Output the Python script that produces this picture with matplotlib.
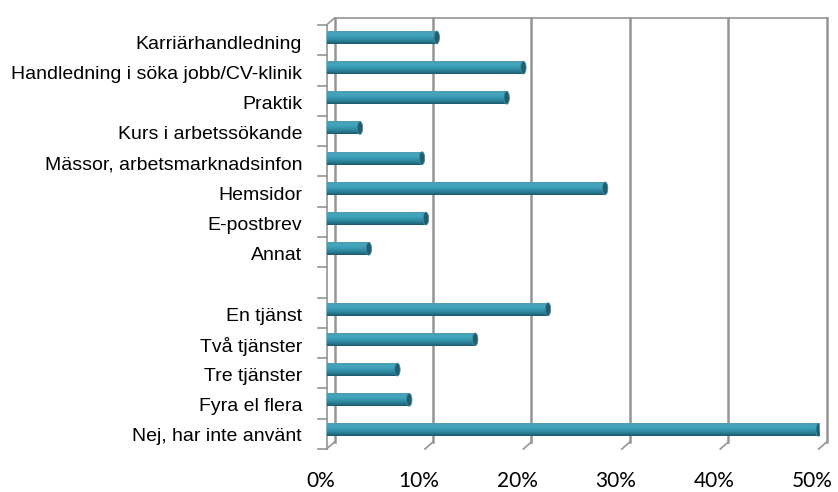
import matplotlib
matplotlib.use("Agg")
import matplotlib.pyplot as plt
import matplotlib.transforms as mtransforms
from matplotlib.colors import LinearSegmentedColormap
from matplotlib.patches import Ellipse
import numpy as np

# Svarskategorier, uppifrån och ned (tom rad mellan de två grupperna)
categories = [
    "Karriärhandledning",
    "Handledning i söka jobb/CV-klinik",
    "Praktik",
    "Kurs i arbetssökande",
    "Mässor, arbetsmarknadsinfon",
    "Hemsidor",
    "E-postbrev",
    "Annat",
    "",
    "En tjänst",
    "Två tjänster",
    "Tre tjänster",
    "Fyra el flera",
    "Nej, har inte använt",
]
# Andel svarande i procent (None = tom rad)
shares = [11.2, 20.0, 18.3, 3.4, 9.7, 28.3, 10.1, 4.3, None,
          22.5, 15.1, 7.2, 8.4, 50.0]
x_ticks = [0, 10, 20, 30, 40, 50]
x_tick_labels = ["0%", "10%", "20%", "30%", "40%", "50%"]

W, H, DPI = 838, 492, 100
fig = plt.figure(figsize=(W / DPI, H / DPI), dpi=DPI)
ax = fig.add_axes([326.5 / W, (H - 449) / H, 492.2 / W, 424 / H])

n = len(categories)
for s in ax.spines.values():
    s.set_visible(False)

grid_col = "#959595"
bt = mtransforms.blended_transform_factory(ax.transData, ax.transAxes)
back = bt + mtransforms.ScaledTranslation(8 / DPI, 7 / DPI, fig.dpi_scale_trans)
left = bt + mtransforms.ScaledTranslation(-9 / DPI, 0, fig.dpi_scale_trans)


def fig_line(p0, p1, lw=1.2):
    fig.add_artist(plt.Line2D([p0[0] / W, p1[0] / W], [p0[1] / H, p1[1] / H],
                              color=grid_col, lw=lw, transform=fig.transFigure))


ax.set_xlim(0, 50)
ax.set_ylim(13.63, -0.41)

# bakre vägg: stödlinjer och övre kant, golvets diagonaler
for xv in x_ticks:
    ax.plot([xv, xv], [0, 1], color=grid_col, lw=1.8, transform=back,
            clip_on=False, zorder=1)
    fig_line(back.transform((xv, 0)), bt.transform((xv, 0)))
ax.plot([0, 50], [1, 1], color=grid_col, lw=1.2, transform=back, clip_on=False, zorder=1)

# vänster vägg med skalstreck
ax.plot([0, 0], [0, 1], color=grid_col, lw=1.2, transform=bt, clip_on=False, zorder=1)
fig_line(bt.transform((0, 1)), back.transform((0, 1)))
for k in range(n + 1):
    yk = 1 - k / n
    fig_line(left.transform((0, yk)), bt.transform((0, yk)))

# cylinderstaplar
cyl = LinearSegmentedColormap.from_list(
    "cyl", [(0.0, "#4a9db3"), (0.3, "#42a6be"), (0.55, "#3494ac"),
            (0.8, "#287a90"), (1.0, "#1c5869")])
grad = np.linspace(0, 1, 64).reshape(-1, 1)
bh = 0.42
cap_w = 0.55
for i, v in enumerate(shares):
    if v is None:
        continue
    ax.imshow(grad, cmap=cyl, aspect="auto", interpolation="bilinear",
              extent=(0, v, i + bh / 2, i - bh / 2), zorder=3)
    ax.add_patch(Ellipse((v, i), cap_w, bh, facecolor="#1f5d6f",
                         edgecolor="#3b8ea4", lw=0.6, zorder=4))
    ax.add_patch(Ellipse((0, i), cap_w, bh, facecolor="#3a98b0",
                         edgecolor="none", zorder=2.9))
ax.set_xlim(0, 50)
ax.set_ylim(13.63, -0.41)

# axeltexter
ax.set_yticks(range(n))
ax.set_yticklabels(categories, fontsize=14, family=["Liberation Sans", "DejaVu Sans"])
ax.tick_params(axis="y", length=0, pad=17.6)
for lab in ax.get_yticklabels():
    lab.set_transform(lab.get_transform() +
                      mtransforms.ScaledTranslation(0, -5 / DPI, fig.dpi_scale_trans))

ax.set_xticks(x_ticks)
ax.set_xticklabels(x_tick_labels, fontsize=15, family=["Lato", "DejaVu Sans"])
ax.tick_params(axis="x", length=0, pad=15.5)
for lab in ax.get_xticklabels():
    lab.set_transform(lab.get_transform() +
                      mtransforms.ScaledTranslation(-6 / DPI, 0, fig.dpi_scale_trans))

fig.savefig("out.png", dpi=DPI)
